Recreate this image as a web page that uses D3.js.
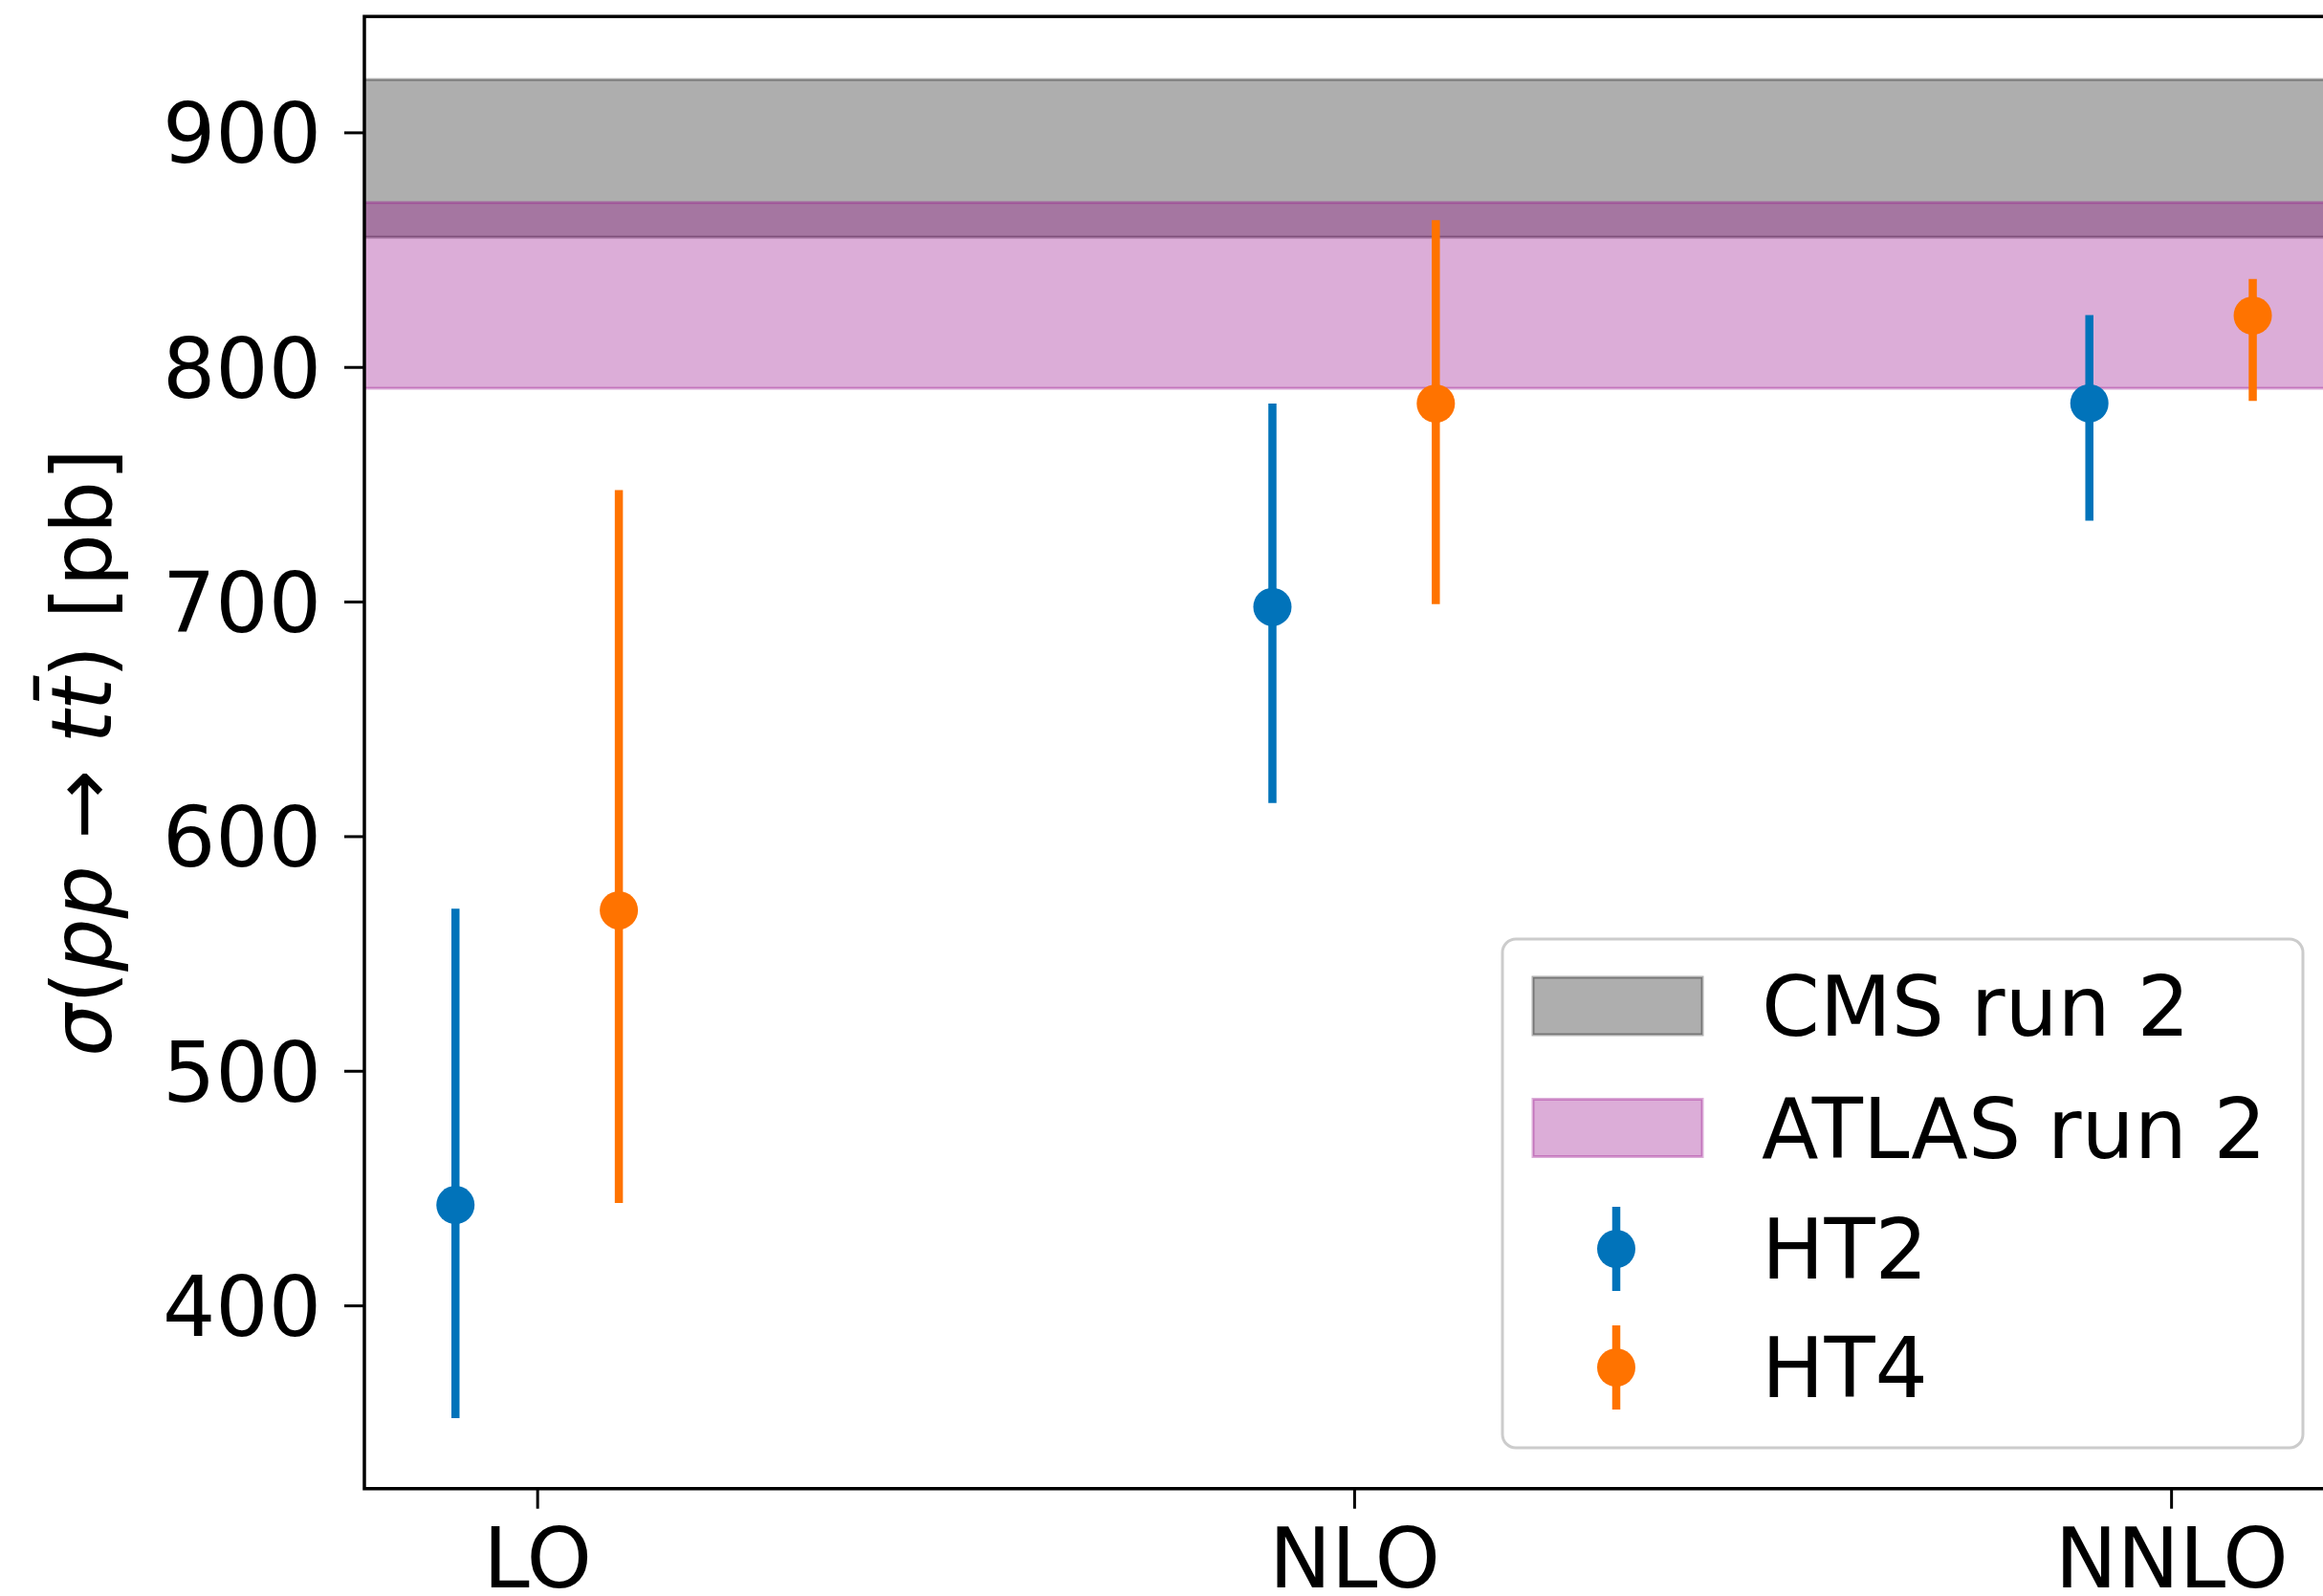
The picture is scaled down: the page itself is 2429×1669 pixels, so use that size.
<!DOCTYPE html>
<html>
<head>
<meta charset="utf-8">
<title>Section efficace ttbar</title>
<script src="https://d3js.org/d3.v7.min.js"></script>
<style>
    body { margin: 0; background: #ffffff; }
    svg { display: block; font-family: "DejaVu Sans", sans-serif; }
</style>
</head>
<body>
<div id="chart"></div>
<script>
/*-------------------- Données -------------------*/

var orders = ["LO", "NLO", "NNLO"];

var ht2Central = [442.8, 697.7, 784.5];
var ht2Upper   = [569.1, 784.4, 822.1];
var ht2Lower   = [351.9, 614.1, 734.5];

var ht4Central = [568.4, 784.4, 821.9];
var ht4Upper   = [747.5, 862.6, 837.5];
var ht4Lower   = [443.6, 698.9, 785.5];

var cmsBand   = [855.3, 922.5];
var atlasBand = [790.9, 870.1];

var yTicks = [400, 500, 600, 700, 800, 900];
var legendLabels = ["CMS run 2", "ATLAS run 2", "HT2", "HT4"];

/*-------------------- Mise en page -------------------*/

var width = 2429, height = 1669;
var fontSize = 87;
var blue = "#0173ba", orange = "#ff7300";

var svg = d3.select("#chart").append("svg")
    .attr("width", width)
    .attr("height", height);

var xScale = d3.scaleLinear()
    .domain([-0.2115, 2.2115])
    .range([381, 2450.8]);

var yScale = d3.scaleLinear()
    .domain([321.9, 949.4])
    .range([1556.7, 17.2]);

var x0 = xScale.range()[0], x1 = xScale.range()[1];
var yTop = yScale.range()[1], yBottom = yScale.range()[0];

svg.append("clipPath").attr("id", "plotclip")
    .append("rect")
    .attr("x", x0).attr("y", yTop)
    .attr("width", x1 - x0).attr("height", yBottom - yTop);

var plot = svg.append("g").attr("clip-path", "url(#plotclip)");

// bandes des mesures (CMS dessous, ATLAS par dessus)
function drawBand(band, color, alpha) {
    plot.append("rect")
        .attr("x", x0 - 10)
        .attr("width", x1 - x0 + 20)
        .attr("y", yScale(band[1]))
        .attr("height", yScale(band[0]) - yScale(band[1]))
        .attr("fill", color)
        .attr("fill-opacity", alpha)
        .attr("stroke", color)
        .attr("stroke-opacity", alpha)
        .attr("stroke-width", 3);
}
drawBand(cmsBand, "#000000", 0.318);
drawBand(atlasBand, "#910087", 0.32);

// barres d'erreur
function drawSeries(central, upper, lower, offset, color) {
    var pts = orders.map(function(o, i) {
        return { x: i + offset, c: central[i], hi: upper[i], lo: lower[i] };
    });
    var g = plot.append("g");
    g.selectAll("line")
        .data(pts)
        .enter()
        .append("line")
        .attr("x1", d => xScale(d.x))
        .attr("x2", d => xScale(d.x))
        .attr("y1", d => yScale(d.hi))
        .attr("y2", d => yScale(d.lo))
        .attr("stroke", color)
        .attr("stroke-width", 8.5);
    g.selectAll("circle")
        .data(pts)
        .enter()
        .append("circle")
        .attr("cx", d => xScale(d.x))
        .attr("cy", d => yScale(d.c))
        .attr("r", 20)
        .attr("fill", color);
}
drawSeries(ht2Central, ht2Upper, ht2Lower, -0.1, blue);
drawSeries(ht4Central, ht4Upper, ht4Lower, 0.1, orange);

/*-------------------- Axes -------------------*/

var yAxis = svg.append("g")
    .attr("transform", "translate(" + x0 + ",0)")
    .call(d3.axisLeft(yScale).tickValues(yTicks).tickSize(21).tickPadding(24).tickFormat(d3.format("d")));

var xAxis = svg.append("g")
    .attr("transform", "translate(0," + yBottom + ")")
    .call(d3.axisBottom(xScale).tickValues([0, 1, 2]).tickSize(21).tickPadding(19).tickFormat((d, i) => orders[i]));

[yAxis, xAxis].forEach(function(ax) {
    ax.select(".domain").remove();
    ax.selectAll(".tick line").attr("stroke", "#000").attr("stroke-width", 3);
    ax.selectAll(".tick text")
        .attr("fill", "#000")
        .style("font-size", fontSize + "px")
        .style("font-family", "DejaVu Sans");
});
yAxis.selectAll(".tick text").attr("dy", "0.36em");
xAxis.selectAll(".tick text").attr("dy", "0.729em");

// cadre
svg.append("path")
    .attr("d", "M" + x1 + "," + yTop + "H" + x0 + "V" + yBottom + "H" + x1)
    .attr("fill", "none")
    .attr("stroke", "#000")
    .attr("stroke-width", 3.5);

// titre axe y : sigma(pp -> t tbar) [pb]
var ylab = svg.append("text")
    .attr("transform", "translate(116," + ((yTop + yBottom) / 2) + ") rotate(-90)")
    .attr("text-anchor", "middle")
    .style("font-size", fontSize + "px");
ylab.append("tspan").style("font-style", "italic").text("σ");
ylab.append("tspan").text("(");
ylab.append("tspan").style("font-style", "italic").text("pp");
ylab.append("tspan").text(" → ");
ylab.append("tspan").style("font-style", "italic").text("t\u0074\u0304");
ylab.append("tspan").text(") [pb]");

/*-------------------- Légende -------------------*/

var legend = svg.append("g").attr("class", "legend");

legend.append("rect")
    .attr("x", 1571).attr("y", 982)
    .attr("width", 837).attr("height", 532)
    .attr("rx", 14)
    .attr("fill", "#ffffff")
    .attr("fill-opacity", 0.8)
    .attr("stroke", "#cccccc")
    .attr("stroke-width", 3);

var rowY = [1052, 1179.5, 1306, 1430];

var swatches = [["#000000", 0.318], ["#910087", 0.32]];
swatches.forEach(function(s, i) {
    legend.append("rect")
        .attr("x", 1603).attr("y", rowY[i] - 30)
        .attr("width", 177).attr("height", 60)
        .attr("fill", s[0]).attr("fill-opacity", s[1])
        .attr("stroke", s[0]).attr("stroke-opacity", s[1])
        .attr("stroke-width", 3);
});

[blue, orange].forEach(function(c, i) {
    var cy = rowY[i + 2];
    legend.append("line")
        .attr("x1", 1690).attr("x2", 1690)
        .attr("y1", cy - 44).attr("y2", cy + 44)
        .attr("stroke", c).attr("stroke-width", 8.5);
    legend.append("circle")
        .attr("cx", 1690).attr("cy", cy).attr("r", 20)
        .attr("fill", c);
});

legend.selectAll("text.lab")
    .data(legendLabels)
    .enter()
    .append("text")
    .attr("class", "lab")
    .attr("x", 1842)
    .attr("y", (d, i) => rowY[i])
    .attr("dy", "0.36em")
    .style("font-size", fontSize + "px")
    .text(d => d);
</script>
</body>
</html>
